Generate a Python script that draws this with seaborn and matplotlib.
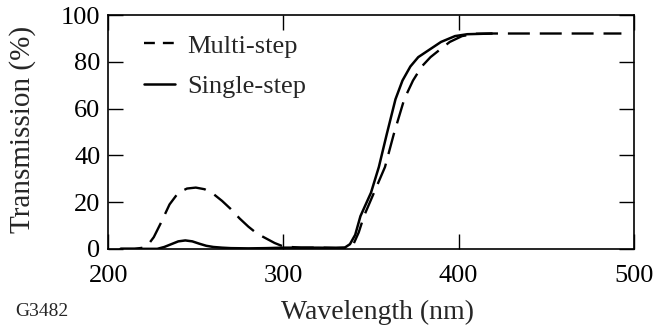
import pandas as pd
import matplotlib
matplotlib.use("Agg")
import matplotlib.pyplot as plt
import seaborn as sns

# transmission curves
wl_multi = [207, 215, 220, 223, 226, 230, 235, 240, 245, 250,
            255, 260, 265, 270, 275, 280, 285, 290, 295, 300,
            310, 320, 330, 336, 340, 343, 346, 350, 354, 358,
            363, 369, 374, 379, 384, 389, 395, 402, 410, 420,
            440, 460, 480, 493]
t_multi = [0, 0, 0.5, 2, 5, 11, 19, 24, 25.8, 26.2,
           25.5, 23.5, 20.5, 17, 13, 9.5, 6.5, 4.5, 2.5, 1,
           0.5, 0.5, 0.4, 0.5, 2, 7, 14, 21, 28, 35,
           49, 64, 72, 78, 82, 85, 88.5, 91, 92, 92.1,
           92.1, 92.1, 92.1, 92.1]

wl_single = [207, 220, 228, 232, 236, 240, 244, 248, 252, 256,
             260, 265, 270, 280, 290, 300, 310, 320, 330, 335,
             338, 341, 344, 347, 350, 354.5, 359, 364, 368, 372.5,
             377, 383, 390, 398, 405, 419]
t_single = [0, 0, 0, 0.8, 2, 3.2, 3.6, 3.2, 2.2, 1.3,
            0.8, 0.5, 0.3, 0.2, 0.3, 0.5, 0.5, 0.5, 0.4, 0.5,
            2, 6, 14, 19, 24, 35, 49, 64, 72, 78,
            82, 85, 88.5, 91, 91.8, 92.1]

x_ticks = [200, 300, 400, 500]
y_ticks = [0, 20, 40, 60, 80, 100]

sns.set_style("ticks")
plt.rcParams["font.family"] = ["Liberation Serif", "DejaVu Serif"]

multi = pd.DataFrame({"wl": wl_multi, "t": t_multi})
single = pd.DataFrame({"wl": wl_single, "t": t_single})

fig = plt.figure(figsize=(6.56, 3.27), dpi=100)
ax = fig.add_axes([0.165, 0.239, 0.801, 0.715])

sns.lineplot(data=multi, x="wl", y="t", ax=ax, color="black", lw=1.7,
             label="Multi-step")
ax.lines[-1].set_dashes((9.3, 4.2))
sns.lineplot(data=single, x="wl", y="t", ax=ax, color="black", lw=1.8,
             label="Single-step")

ax.set_xlim(200, 500)
ax.set_ylim(0, 100)
ax.set_xticks(x_ticks)
ax.set_yticks(y_ticks)
ax.tick_params(direction="in", length=10.5, width=1, labelsize=19,
               top=True, right=True, colors="black")
ax.tick_params(axis="x", pad=11.5)
ax.tick_params(axis="y", pad=5.5)
for s in ax.spines.values():
    s.set_linewidth(1.2)
    s.set_color("black")

ax.set_xlabel("")
ax.set_ylabel("")
fig.text(0.034, 0.605, "Transmission (%)", fontsize=21, rotation=90,
         ha="center", va="center")
fig.text(0.575, 0.046, "Wavelength (nm)", fontsize=20, ha="center", va="center")
fig.text(0.023, 0.046, "G3482", fontsize=14, ha="left", va="center")

leg = ax.legend(loc="upper left", frameon=False, fontsize=19, handlelength=1.17,
                handletextpad=0.45, labelspacing=0.65, borderaxespad=0,
                bbox_to_anchor=(0.048, 0.963))
leg.get_lines()[0].set_dashes((4.6, 3.4))

fig.savefig("out.png", dpi=100)
